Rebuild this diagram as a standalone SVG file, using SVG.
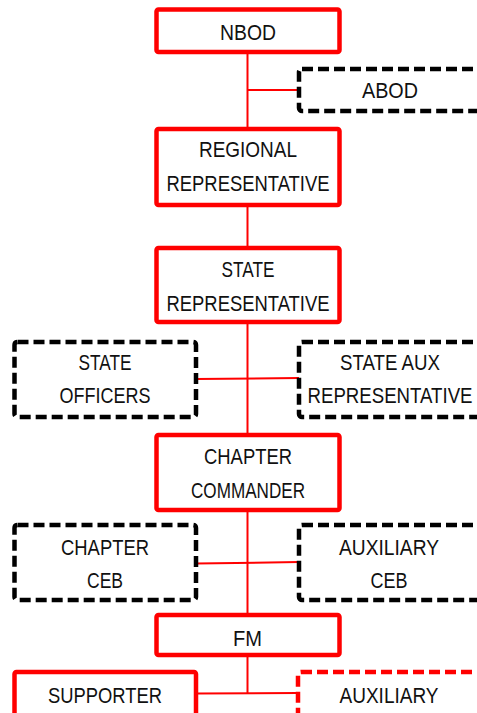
<svg xmlns="http://www.w3.org/2000/svg" width="477" height="713" viewBox="0 0 477 713">
<style>
.main{fill:#fff;stroke:#ff0000;stroke-width:4.5}
.dash{fill:#fff;stroke:#000;stroke-width:4.5;stroke-dasharray:11 5}
.rdash{fill:#fff;stroke:#ff0000;stroke-width:4.5;stroke-dasharray:11 5}
.ln{stroke:#ff0000;stroke-width:2;fill:none}
text{font-family:"Liberation Sans",Arial,sans-serif;font-size:22px;fill:#111;text-anchor:middle}
</style>
<rect width="477" height="713" fill="#fff"/>
<g id="connectors">
<line class="ln" x1="247.5" y1="52" x2="247.5" y2="129"/>
<line class="ln" x1="247.5" y1="90" x2="299" y2="90"/>
<line class="ln" x1="247.5" y1="205" x2="247.5" y2="248"/>
<line class="ln" x1="247.5" y1="322" x2="247.5" y2="435"/>
<line class="ln" x1="196" y1="379" x2="299" y2="378"/>
<line class="ln" x1="247.5" y1="510" x2="247.5" y2="615"/>
<line class="ln" x1="196" y1="563.5" x2="299" y2="562"/>
<line class="ln" x1="247.5" y1="655" x2="247.5" y2="693"/>
<line class="ln" x1="196" y1="693.5" x2="298" y2="693"/>
</g>
<g id="nbod">
<rect class="main" x="156.5" y="9.5" width="183" height="42.5" rx="2"/>
<text x="248" y="40" textLength="56" lengthAdjust="spacingAndGlyphs">NBOD</text>
</g>
<g id="abod">
<rect class="dash" x="299" y="69" width="200" height="42" rx="3"/>
<text x="390" y="98" textLength="56" lengthAdjust="spacingAndGlyphs">ABOD</text>
</g>
<g id="regional">
<rect class="main" x="156.5" y="129" width="183" height="76" rx="2"/>
<text x="248" y="157" textLength="98" lengthAdjust="spacingAndGlyphs">REGIONAL</text>
<text x="248" y="190.5" textLength="163" lengthAdjust="spacingAndGlyphs">REPRESENTATIVE</text>
</g>
<g id="state-rep">
<rect class="main" x="156.5" y="248" width="183" height="74" rx="2"/>
<text x="248" y="276.5" textLength="53" lengthAdjust="spacingAndGlyphs">STATE</text>
<text x="248" y="311" textLength="163" lengthAdjust="spacingAndGlyphs">REPRESENTATIVE</text>
</g>
<g id="state-officers">
<rect class="dash" x="14.5" y="342" width="181.5" height="75" rx="3"/>
<text x="105" y="370" textLength="53" lengthAdjust="spacingAndGlyphs">STATE</text>
<text x="105" y="403" textLength="91" lengthAdjust="spacingAndGlyphs">OFFICERS</text>
</g>
<g id="state-aux">
<rect class="dash" x="299" y="342" width="200" height="75" rx="3"/>
<text x="390" y="370" textLength="100" lengthAdjust="spacingAndGlyphs">STATE AUX</text>
<text x="390" y="403" textLength="165" lengthAdjust="spacingAndGlyphs">REPRESENTATIVE</text>
</g>
<g id="chapter-commander">
<rect class="main" x="156.5" y="435" width="183" height="75" rx="2"/>
<text x="248" y="464" textLength="88" lengthAdjust="spacingAndGlyphs">CHAPTER</text>
<text x="248" y="497.5" textLength="114" lengthAdjust="spacingAndGlyphs">COMMANDER</text>
</g>
<g id="chapter-ceb">
<rect class="dash" x="14.5" y="525" width="181.5" height="75" rx="3"/>
<text x="105" y="555" textLength="88" lengthAdjust="spacingAndGlyphs">CHAPTER</text>
<text x="105" y="588" textLength="36" lengthAdjust="spacingAndGlyphs">CEB</text>
</g>
<g id="auxiliary-ceb">
<rect class="dash" x="299" y="525" width="200" height="75" rx="3"/>
<text x="389" y="555" textLength="100" lengthAdjust="spacingAndGlyphs">AUXILIARY</text>
<text x="389" y="588" textLength="37" lengthAdjust="spacingAndGlyphs">CEB</text>
</g>
<g id="fm">
<rect class="main" x="156.5" y="615" width="183" height="40" rx="2"/>
<text x="247.5" y="646" textLength="29" lengthAdjust="spacingAndGlyphs">FM</text>
</g>
<g id="supporter">
<rect class="main" x="14.5" y="672" width="181.5" height="75" rx="2"/>
<text x="105" y="702.5" textLength="114" lengthAdjust="spacingAndGlyphs">SUPPORTER</text>
</g>
<g id="auxiliary">
<rect class="rdash" x="298" y="672" width="200" height="75" rx="3"/>
<text x="389" y="702.5" textLength="99" lengthAdjust="spacingAndGlyphs">AUXILIARY</text>
</g>
</svg>
